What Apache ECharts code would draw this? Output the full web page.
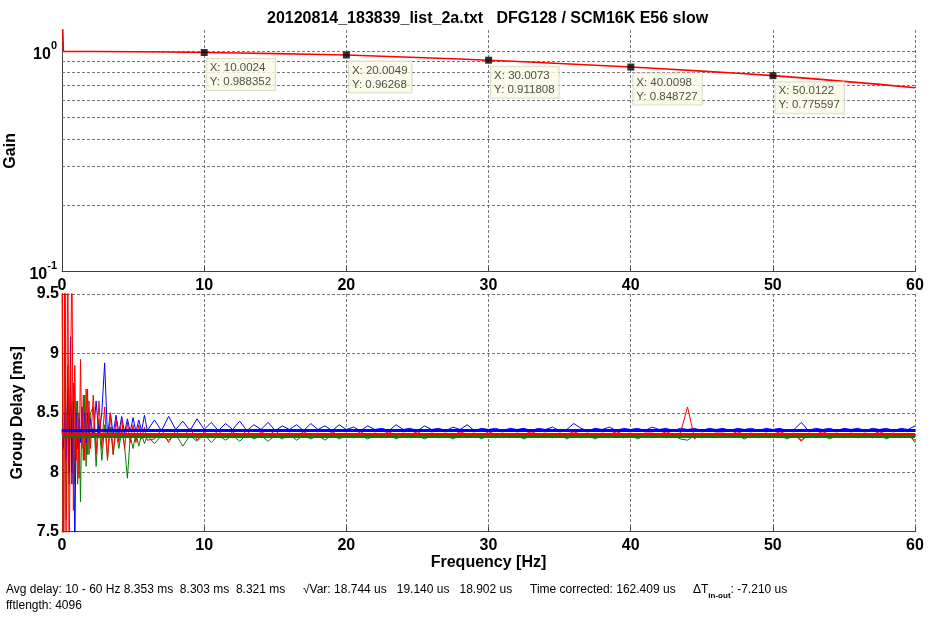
<!DOCTYPE html>
<html><head><meta charset="utf-8">
<script src="https://cdn.jsdelivr.net/npm/echarts@6/dist/echarts.min.js"></script>
<style>html,body{margin:0;padding:0;background:#fff}#c{width:929px;height:620px}</style>
</head><body><div id="c"></div>
<script>
// ---------- data ----------
const titleText = '20120814_183839_list_2a.txt   DFG128 / SCM16K E56 slow';
const xTicks = [0, 10, 20, 30, 40, 50, 60];

// Gain (top plot, log axis)
const gainFreq   = [0, 0.1, 2.5, 5, 7.5, 10.0024, 12.5, 15, 17.5, 20.0049, 22.5, 25, 27.5, 30.0073, 32.5, 35, 37.5, 40.0098, 42.5, 45, 47.5, 50.0122, 52.5, 55, 57.5, 60];
const gainValues = [1.6, 1.0, 0.999, 0.996, 0.993, 0.988352, 0.983, 0.977, 0.970, 0.96268, 0.950, 0.938, 0.925, 0.911808, 0.897, 0.881, 0.865, 0.848727, 0.831, 0.813, 0.795, 0.775597, 0.754, 0.731, 0.708, 0.684];
const gainGridValues = [0.2, 0.3, 0.4, 0.5, 0.6, 0.7, 0.8, 0.9, 1];

// Data tips
const tipFreq = [10.0024, 20.0049, 30.0073, 40.0098, 50.0122];
const tipGain = [0.988352, 0.96268, 0.911808, 0.848727, 0.775597];

// Group delay (bottom plot)
const gdFreq = [
  0,0.1,0.2,0.3,0.4,0.5,0.6,0.7,0.8,0.9,1,1.1,1.2,1.3,1.4,1.5,1.6,1.7,1.8,1.9,2,
  2.2,2.4,2.6,2.8,3,3.2,3.4,3.6,3.8,4,4.2,4.4,4.6,4.8,5,5.2,5.4,5.6,5.8,6,
  6.5,7,7.5,8,8.5,9,9.5,10,10.5,11, 11.5,12,12.5,13,13.5,14,14.5,15,15.5,16,
  16.5,17,17.5,18,18.5,19,19.5,20,20.5,21, 21.5,22,22.5,23,23.5,24,24.5,25,25.5,26,
  26.5,27,27.5,28,28.5,29,29.5,30,30.5,31, 31.5,32,32.5,33,33.5,34,34.5,35,35.5,36,
  36.5,37,37.5,38,38.5,39,39.5,40,40.5,41, 41.5,42,42.5,43,43.5,44,44.5,45,45.5,46,
  46.5,47,47.5,48,48.5,49,49.5,50,50.5,51, 51.5,52,52.5,53,53.5,54,54.5,55,55.5,56,
  56.5,57,57.5,58,58.5,59,59.5,60
];
const gdBlue = [
  8.36,8.2,8.5,8.1,8.7,8.0,9.14,7.9,8.6,7.3,8.5,8.2,8.45,8.25,8.55,8.3,8.5,8.25,8.5,8.3,8.45,
  8.3,8.6,8.3,8.5,8.92,8.3,8.5,8.32,8.48,8.33,8.47,8.33,8.45,8.34,8.46,8.34,8.44,8.35,8.48,8.35,
  8.44,8.35,8.47,8.36,8.43,8.35,8.45,8.36,8.42,8.35, 8.41,8.36,8.43,8.35,8.40,8.36,8.42,8.35,8.39,8.36,
  8.40,8.35,8.41,8.36,8.39,8.35,8.40,8.36,8.38,8.35, 8.39,8.36,8.37,8.35,8.40,8.36,8.37,8.35,8.39,8.36,
  8.37,8.35,8.38,8.36,8.40,8.35,8.37,8.36,8.37,8.35, 8.37,8.36,8.37,8.35,8.37,8.36,8.38,8.35,8.36,8.41,
  8.37,8.35,8.37,8.36,8.38,8.35,8.37,8.36,8.37,8.35, 8.38,8.36,8.37,8.35,8.37,8.36,8.37,8.35,8.37,8.36,
  8.37,8.35,8.37,8.36,8.37,8.35,8.37,8.36,8.37,8.35, 8.36,8.42,8.35,8.37,8.36,8.37,8.35,8.37,8.36,8.37,
  8.35,8.37,8.36,8.37,8.35,8.37,8.36,8.39
];
const gdRed = [
  12,5,11,6,10.5,7,8.8,9.8,7.68,8.9,8.1,8.6,7.95,8.95,8.2,8.65,8.1,8.7,8.15,8.6,8.2,
  8.65,8.15,8.6,8.2,8.55,8.1,8.5,8.15,8.45,8.25,8.45,8.2,8.42,8.25,8.4,8.25,8.4,8.28,8.38,8.27,
  8.28,8.36,8.25,8.35,8.29,8.37,8.27,8.34,8.30,8.35, 8.29,8.34,8.30,8.35,8.29,8.34,8.31,8.35,8.30,8.33,
  8.30,8.34,8.31,8.33,8.30,8.34,8.31,8.33,8.31,8.34, 8.31,8.33,8.32,8.34,8.31,8.33,8.32,8.34,8.31,8.33,
  8.32,8.33,8.31,8.34,8.32,8.33,8.31,8.34,8.32,8.33, 8.31,8.33,8.32,8.34,8.32,8.33,8.31,8.33,8.32,8.34,
  8.32,8.33,8.31,8.33,8.32,8.34,8.32,8.33,8.31,8.33, 8.33,8.32,8.34,8.32,8.33,8.55,8.28,8.33,8.32,8.33,
  8.33,8.32,8.34,8.32,8.33,8.31,8.33,8.32,8.34,8.32, 8.33,8.26,8.33,8.32,8.34,8.32,8.33,8.31,8.33,8.32,
  8.33,8.32,8.34,8.32,8.33,8.31,8.33,8.25
];
const gdGreen = [
  9.6,7.2,9.7,7.6,8.9,7.9,8.7,8.0,8.75,7.9,8.6,7.9,8.5,7.75,8.55,8.1,8.65,8.05,8.7,8.15,8.5,
  8.55,8.05,8.45,8.1,8.4,8.12,8.38,8.15,8.35,8.2,8.35,8.22,7.95,8.3,8.2,8.33,8.22,8.32,8.24,8.31,
  8.24,8.31,8.27,8.32,8.22,8.31,8.26,8.32,8.25,8.31, 8.27,8.31,8.26,8.32,8.28,8.31,8.26,8.31,8.28,8.32,
  8.27,8.31,8.28,8.31,8.27,8.32,8.28,8.31,8.29,8.31, 8.28,8.31,8.29,8.32,8.28,8.31,8.29,8.31,8.28,8.31,
  8.29,8.31,8.28,8.31,8.29,8.32,8.28,8.31,8.29,8.31, 8.29,8.31,8.28,8.31,8.29,8.31,8.29,8.32,8.28,8.31,
  8.29,8.31,8.28,8.31,8.29,8.31,8.29,8.31,8.28,8.31, 8.29,8.31,8.29,8.31,8.28,8.27,8.31,8.29,8.31,8.29,
  8.31,8.29,8.31,8.28,8.31,8.29,8.31,8.29,8.31,8.28, 8.31,8.27,8.31,8.29,8.31,8.28,8.31,8.29,8.31,8.29,
  8.31,8.29,8.31,8.28,8.31,8.29,8.31,8.27
];
// average delays 10-60 Hz: blue, green, red
const avgDelay = [8.353, 8.303, 8.321];

const footerAvg  = 'Avg delay: 10 - 60 Hz 8.353 ms  8.303 ms  8.321 ms';
const footerVar  = '\u221AVar: 18.744 us   19.140 us   18.902 us';
const footerTime = 'Time corrected: 162.409 us';
const footerDT   = ': -7.210 us';
const footerFft  = 'fftlength: 4096';

// ---------- chart ----------
const F = '"Liberation Sans", Arial, sans-serif';
const gridDash = { type: [3, 2], color: '#777', width: 1 };
const axisCol = '#404040';
const pair = (xs, ys) => xs.map((x, i) => [x, ys[i]]);

const xAxisBase = (gi, name) => ({
  gridIndex: gi, type: 'value', min: xTicks[0], max: xTicks[xTicks.length - 1], interval: 10,
  name: name, nameLocation: 'middle', nameGap: 23,
  nameTextStyle: { fontFamily: F, fontWeight: 'bold', fontSize: 16, color: '#000' },
  axisLine: { lineStyle: { color: axisCol } },
  axisTick: { inside: true, length: 5, lineStyle: { color: axisCol } },
  axisLabel: { margin: 6, fontFamily: F, fontWeight: 'bold', fontSize: 16, color: '#000' },
  splitLine: { show: true, lineStyle: gridDash }
});

const chart = echarts.init(document.getElementById('c'), null, { renderer: 'canvas' });
chart.setOption({
  animation: false,
  backgroundColor: '#fff',
  title: {
    text: titleText, left: 262, top: 6,
    textStyle: { fontFamily: F, fontWeight: 'bold', fontSize: 16, color: '#000' }
  },
  grid: [
    { left: 62, right: 14, top: 30, height: 241.7, containLabel: false, outerBoundsMode: 'none' },
    { left: 62, right: 14, top: 294, height: 237.7, containLabel: false, outerBoundsMode: 'none' }
  ],
  xAxis: [ xAxisBase(0, ''), xAxisBase(1, 'Frequency [Hz]') ],
  yAxis: [
    {
      gridIndex: 0, type: 'log', logBase: 10, min: 0.1, max: 1.25,
      name: 'Gain', nameLocation: 'middle', nameGap: 34,
      nameTextStyle: { fontFamily: F, fontWeight: 'bold', fontSize: 16, color: '#000' },
      axisLine: { show: true, lineStyle: { color: axisCol } },
      axisTick: { show: false },
      splitLine: { show: false },
      axisLabel: {
        margin: 5,
        formatter: v => {
          const e = Math.log10(v), r = Math.round(e);
          if (Math.abs(e - r) > 1e-6) return '';
          return '{b|10}{s|' + r + '}';
        },
        rich: {
          b: { fontFamily: F, fontWeight: 'bold', fontSize: 16, color: '#000', verticalAlign: 'bottom', lineHeight: 22 },
          s: { fontFamily: F, fontWeight: 'bold', fontSize: 11, color: '#000', verticalAlign: 'top', lineHeight: 22 }
        }
      }
    },
    {
      gridIndex: 1, type: 'value', min: 7.5, max: 9.5, interval: 0.5,
      name: 'Group Delay [ms]', nameLocation: 'middle', nameGap: 34,
      nameTextStyle: { fontFamily: F, fontWeight: 'bold', fontSize: 16, color: '#000' },
      axisLine: { show: true, lineStyle: { color: axisCol } },
      axisTick: { inside: true, length: 5, lineStyle: { color: axisCol } },
      splitLine: { show: true, lineStyle: gridDash },
      axisLabel: { margin: 3, fontFamily: F, fontWeight: 'bold', fontSize: 16, color: '#000' }
    }
  ],
  series: [
    {
      name: 'gainGrid', type: 'line', xAxisIndex: 0, yAxisIndex: 0, data: [], z: 1,
      markLine: {
        silent: true, symbol: 'none', label: { show: false }, animation: false,
        lineStyle: gridDash, z: 1,
        data: gainGridValues.map(v => ({ yAxis: v }))
      }
    },
    {
      name: 'Gain', type: 'line', xAxisIndex: 0, yAxisIndex: 0, z: 3,
      data: pair(gainFreq, gainValues), showSymbol: false, clip: true,
      lineStyle: { color: '#ff0000', width: 1.6 }, itemStyle: { color: '#ff0000' }
    },
    {
      name: 'Datatips', type: 'scatter', xAxisIndex: 0, yAxisIndex: 0, z: 10,
      data: pair(tipFreq, tipGain), symbol: 'rect', symbolSize: 7,
      itemStyle: { color: '#000' },
      label: {
        show: true, position: [6, 10],
        formatter: p => 'X: ' + p.value[0] + '\nY: ' + p.value[1],
        fontFamily: F, fontSize: 11.5, lineHeight: 14, color: '#222',
        backgroundColor: '#fbfbe6', borderColor: '#d4d4c4', borderWidth: 1,
        padding: [2, 4, 1, 3]
      }
    },
    {
      name: 'Green', type: 'line', xAxisIndex: 1, yAxisIndex: 1, z: 2,
      data: pair(gdFreq, gdGreen), showSymbol: false, clip: true,
      lineStyle: { color: '#008000', width: 1 },
      markLine: { silent: true, symbol: 'none', label: { show: false }, animation: false,
        lineStyle: { color: '#008000', width: 3, type: 'solid' }, data: [{ yAxis: avgDelay[1] }] }
    },
    {
      name: 'Blue', type: 'line', xAxisIndex: 1, yAxisIndex: 1, z: 2,
      data: pair(gdFreq, gdBlue), showSymbol: false, clip: true,
      lineStyle: { color: '#0000ff', width: 1 },
      markLine: { silent: true, symbol: 'none', label: { show: false }, animation: false,
        lineStyle: { color: '#0000ff', width: 3, type: 'solid' }, data: [{ yAxis: avgDelay[0] }] }
    },
    {
      name: 'Red', type: 'line', xAxisIndex: 1, yAxisIndex: 1, z: 2,
      data: pair(gdFreq, gdRed), showSymbol: false, clip: true,
      lineStyle: { color: '#ff0000', width: 1 },
      markLine: { silent: true, symbol: 'none', label: { show: false }, animation: false,
        lineStyle: { color: '#ff0000', width: 3, type: 'solid' }, data: [{ yAxis: avgDelay[2] }] }
    }
  ],
  graphic: [
    { type: 'text', left: 6, top: 584, style: { text: footerAvg, fontFamily: F, fontSize: 12, fill: '#000' } },
    { type: 'text', left: 303, top: 584, style: { text: footerVar, fontFamily: F, fontSize: 12, fill: '#000' } },
    { type: 'text', left: 530, top: 584, style: { text: footerTime, fontFamily: F, fontSize: 12, fill: '#000' } },
    { type: 'text', left: 693, top: 584, style: {
        text: '{a|\u0394T}{b|in-out}{a|' + footerDT + '}',
        rich: {
          a: { fontFamily: F, fontSize: 12, color: '#000', verticalAlign: 'top', lineHeight: 16 },
          b: { fontFamily: F, fontSize: 8, color: '#000', fontWeight: 'bold', verticalAlign: 'bottom', lineHeight: 16 }
        } } },
    { type: 'text', left: 6, top: 600, style: { text: footerFft, fontFamily: F, fontSize: 12, fill: '#000' } }
  ]
});
</script>
</body></html>
